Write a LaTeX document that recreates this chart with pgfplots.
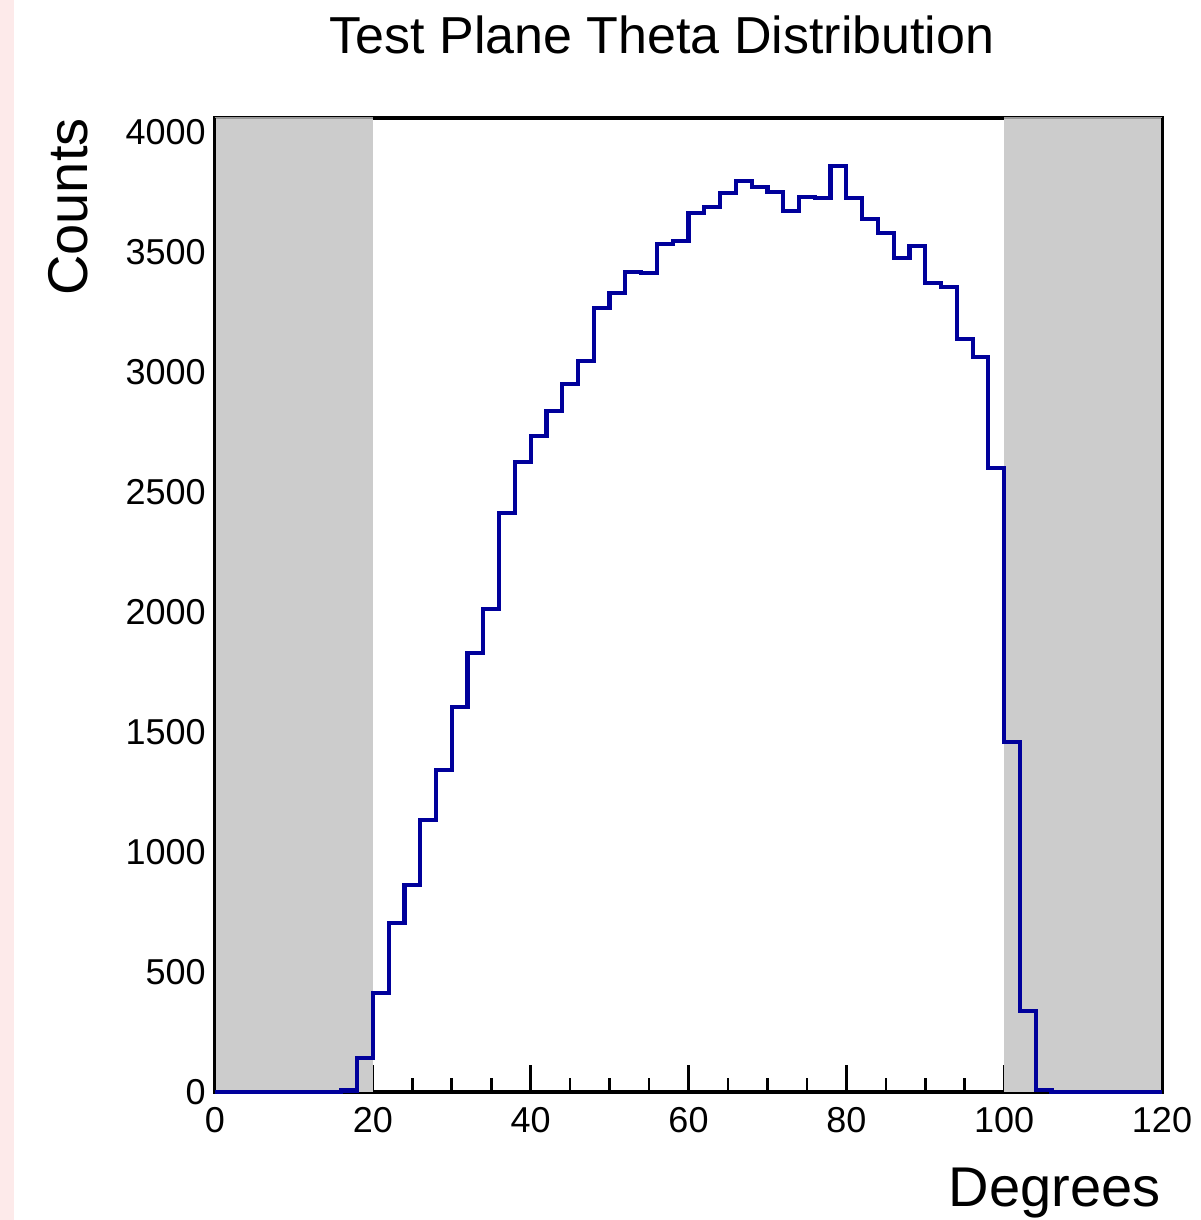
\documentclass[border=0pt]{standalone}
\usepackage{pgfplots}
\pgfplotsset{compat=1.18}
\usepackage{fontspec}
\setmainfont{Liberation Sans}
\definecolor{histblue}{RGB}{0,0,155}
\definecolor{bandgray}{RGB}{204,204,204}
\definecolor{pinkstrip}{RGB}{253,234,234}
\begin{document}
\begin{tikzpicture}
\fill[pinkstrip] (-107.5pt,-64pt) rectangle (-100.5pt,546pt);
\begin{axis}[
  set layers,
  at={(0,0)}, anchor=south west,
  scale only axis,
  width=473.5pt, height=487pt,
  xmin=0, xmax=120, ymin=0, ymax=4058,
  clip=false,
  axis line style={black, line width=1.6pt},
  xtick={0,20,40,60,80,100,120},
  minor x tick num=3,
  ytick={0,500,1000,1500,2000,2500,3000,3500,4000},
  xtick pos=bottom, ytick pos=left,
  tick align=inside,
  major tick length=13.5pt, minor tick length=7pt,
  every tick/.style={black, line width=1.3pt},
  scaled y ticks=false,
  /pgf/number format/1000 sep={},
  /pgf/number format/assume math mode=true,
  tick label style={font=\fontsize{18}{20}\selectfont},
  xticklabel style={anchor=north, inner sep=0pt, yshift=-7.5pt},
  yticklabel style={anchor=east, inner sep=0pt, xshift=-4.5pt},
  title={Test Plane Theta Distribution},
  title style={font=\fontsize{26}{30}\selectfont, at={(rel axis cs:0.472,1.0534)}, anchor=base, inner sep=0pt},
  xlabel={Degrees},
  xlabel style={font=\fontsize{28}{32}\selectfont, at={(rel axis cs:0.999,-0.118)}, anchor=base east, inner sep=0pt},
  ylabel={Counts},
  ylabel style={font=\fontsize{28}{32}\selectfont, at={(rel axis cs:-0.135,1)}, anchor=base east, inner sep=0pt},
]
\fill[bandgray] (axis cs:0,0) rectangle (axis cs:20,4058);
\fill[bandgray] (axis cs:100,0) rectangle (axis cs:120,4058);
\draw[gray!80, line width=0.6pt] (axis cs:0,4058) -- (axis cs:20,4058);
\draw[gray!80, line width=0.6pt] (axis cs:100,4058) -- (axis cs:120,4058);
\draw[black, line width=0.7pt] (axis cs:0,0) -- (axis cs:0,4058);
\draw[black, line width=0.7pt] (axis cs:120,0) -- (axis cs:120,4058);
\addplot[const plot, histblue, line width=2.1pt, line join=miter] coordinates {
(0,0) (2,0) (4,0) (6,0) (8,0) (10,0) (12,0) (14,0)
(16,6) (18,142) (20,412) (22,704) (24,862) (26,1133) (28,1342)
(30,1604) (32,1829) (34,2012) (36,2412) (38,2625) (40,2733)
(42,2838) (44,2950) (46,3046) (48,3267) (50,3329) (52,3417)
(54,3412) (56,3533) (58,3546) (60,3662) (62,3687) (64,3746)
(66,3796) (68,3771) (70,3750) (72,3671) (74,3729) (76,3725)
(78,3858) (80,3725) (82,3637) (84,3579) (86,3475) (88,3525)
(90,3371) (92,3354) (94,3137) (96,3062) (98,2600) (100,1458)
(102,337) (104,8) (106,0) (108,0) (110,0) (112,0) (114,0)
(116,0) (118,0) (120,0)
};
\end{axis}
\pgfresetboundingbox
\useasboundingbox (-107.5pt,-64pt) rectangle (492.5pt,546pt);
\end{tikzpicture}
\end{document}
